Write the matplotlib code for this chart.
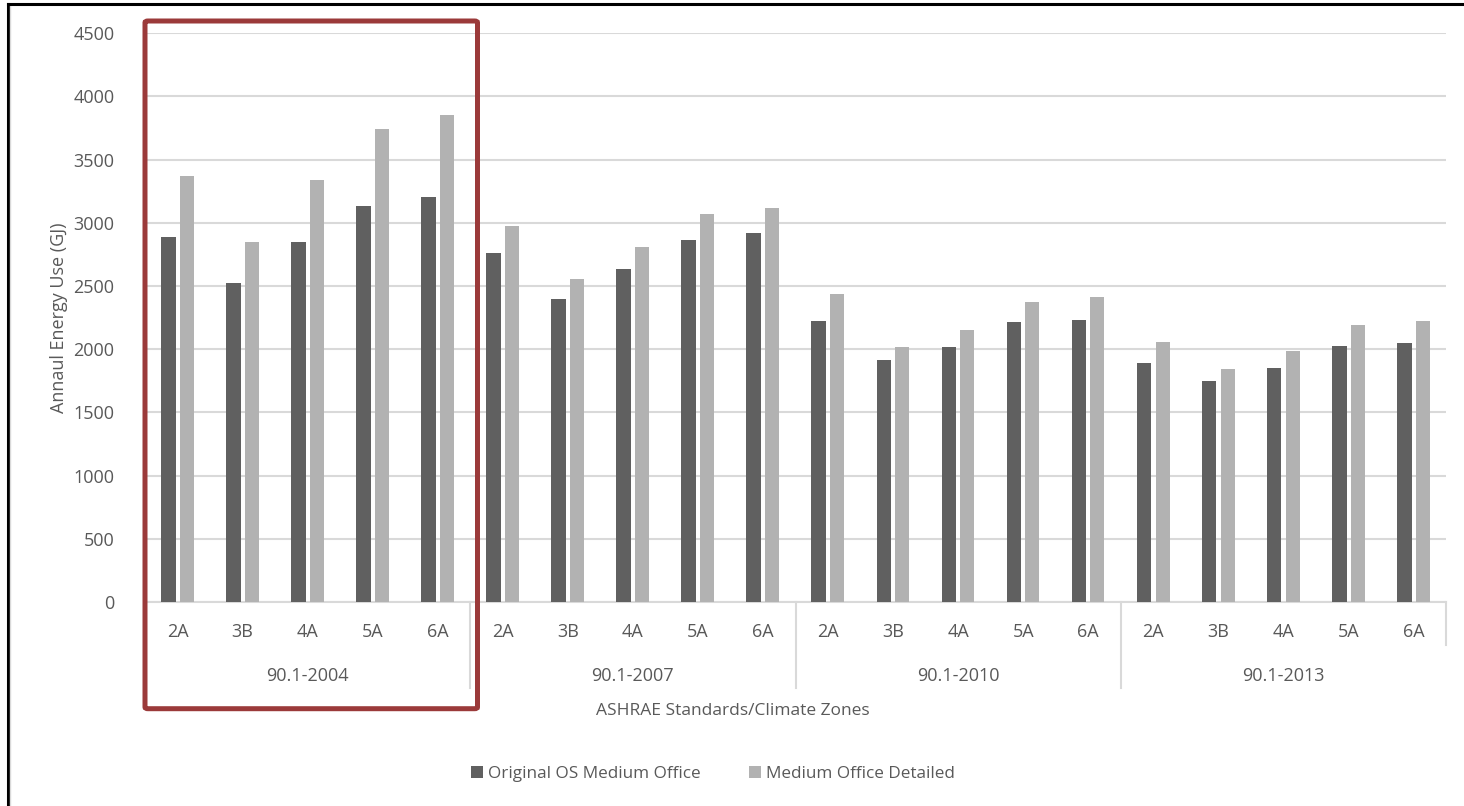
import matplotlib.pyplot as plt
import matplotlib.transforms as mtransforms
from matplotlib.lines import Line2D
from matplotlib.patches import FancyBboxPatch
import numpy as np

plt.rcParams['font.family'] = ['Open Sans', 'DejaVu Sans']

standards = ['90.1-2004', '90.1-2007', '90.1-2010', '90.1-2013']
zones = ['2A', '3B', '4A', '5A', '6A']

original = [2885, 2525, 2845, 3135, 3205,
            2760, 2398, 2634, 2868, 2918,
            2222, 1912, 2017, 2213, 2232,
            1893, 1747, 1855, 2029, 2050]
detailed = [3370, 2845, 3340, 3740, 3855,
            2977, 2555, 2810, 3074, 3121,
            2437, 2017, 2153, 2377, 2416,
            2058, 1844, 1989, 2195, 2224]

txt = '#595959'
dark = '#606060'
light = '#b2b2b2'
grid = '#d9d9d9'

W, H = 1464, 806
fig = plt.figure(figsize=(W/100, H/100), dpi=100)
ax = fig.add_axes([145/W, 1-602/H, 1301/W, (602-33.3)/H])

x = np.arange(len(original))
b1 = ax.bar(x - 0.142, original, width=0.225, color=dark, label='Original OS Medium Office', zorder=3)
b2 = ax.bar(x + 0.142, detailed, width=0.215, color=light, label='Medium Office Detailed', zorder=3)

ax.set_xlim(-0.5, len(x) - 0.5)
ax.set_ylim(0, 4500)
ax.set_yticks(np.arange(0, 4501, 500))
ax.yaxis.grid(True, color=grid, linewidth=1.5, zorder=0)
ax.tick_params(axis='y', length=0, labelsize=13, colors=txt, pad=22)
ax.set_xticks([])
for s in ['top', 'right', 'left']:
    ax.spines[s].set_visible(False)
ax.spines['bottom'].set_color(grid)
ax.spines['bottom'].set_linewidth(1.5)

ax.set_ylabel('Annaul Energy Use (GJ)', fontsize=13, color=txt, labelpad=4)

trans = mtransforms.blended_transform_factory(ax.transData, ax.transAxes)
labels = zones * len(standards)
for i, lab in enumerate(labels):
    ax.text(i, -0.053, lab, transform=trans, ha='center', va='center',
            fontsize=13, color=txt, clip_on=False)
for g, name in enumerate(standards):
    mid = g * len(zones) + (len(zones) - 1) / 2
    ax.text(mid, -0.13, name, transform=trans, ha='center', va='center',
            fontsize=13, color=txt, clip_on=False)
for g in range(1, len(standards)):
    xb = g * len(zones) - 0.5
    ax.add_line(Line2D([xb, xb], [0, -0.151], transform=trans, color=grid,
                       linewidth=1.5, clip_on=False))
ax.add_line(Line2D([len(x) - 0.5] * 2, [0, -0.075], transform=trans, color=grid,
                   linewidth=1.5, clip_on=False))

# axis title is centred on the whole chart area
fig.text(733/W, 1-711/H, 'ASHRAE Standards/Climate Zones',
         ha='center', va='center', fontsize=12.5, color=txt)

leg = fig.legend(handles=[b1, b2], loc='center', bbox_to_anchor=(713/W, 1-774/H),
                 ncol=2, frameon=False, fontsize=12.3, handlelength=0.7, handleheight=0.7,
                 handletextpad=0.3, columnspacing=2.8)
for t in leg.get_texts():
    t.set_color(txt)

# highlight box around the 2004 group
box = FancyBboxPatch((145/W, 1-708.7/H), (477.5-145)/W, (708.7-21)/H,
                     boxstyle='round,pad=0,rounding_size=0.002', transform=fig.transFigure,
                     fill=False, edgecolor='#9b3a3a', linewidth=3.6, zorder=10)
fig.add_artist(box)

# frame of the slide
fig.add_artist(Line2D([8/W, 8/W], [0, 1-4/H], transform=fig.transFigure, color='black', linewidth=2.2))
fig.add_artist(Line2D([10/W, 10/W], [0, 1-6/H], transform=fig.transFigure, color='#d9d9d9', linewidth=1))
fig.add_artist(Line2D([8/W, 1], [1-4/H, 1-4/H], transform=fig.transFigure, color='black', linewidth=2.2))

fig.savefig('out.png', dpi=100)
